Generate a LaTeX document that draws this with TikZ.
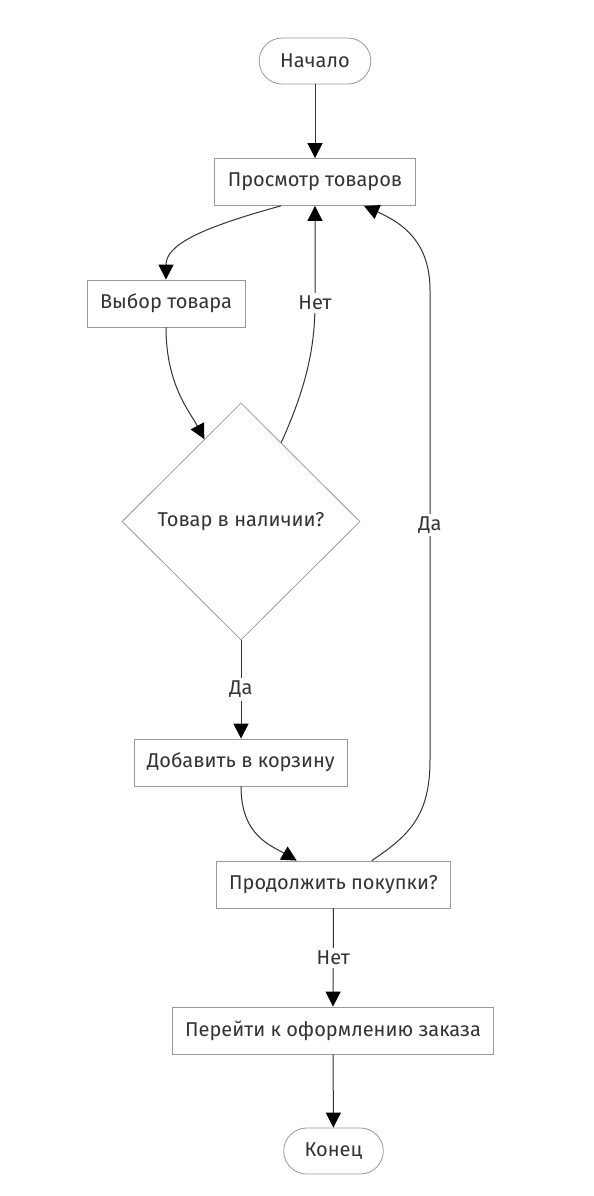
\documentclass[tikz,border=0pt]{standalone}
\usepackage{fontspec}
\setmainfont{Fira Sans}
\usepackage{tikz}
\usetikzlibrary{shapes.geometric, arrows.meta}

\definecolor{textgray}{HTML}{333333}
\definecolor{boxgray}{HTML}{999999}

\begin{document}
\begin{tikzpicture}[
        x=0.5pt, y=-0.5pt,
        font=\fontsize{10}{12}\selectfont,
        text=textgray,
        process node/.style={draw=boxgray, rectangle, align=center, fill=white, inner xsep=6.5pt, minimum height=23.5pt},
        term node/.style={draw=boxgray, rectangle, rounded corners=11.5pt, align=center, fill=white, inner xsep=10.5pt, minimum height=23pt},
        decision node/.style={draw=boxgray, diamond, align=center, fill=white, inner sep=0pt, minimum width=119pt, minimum height=118.5pt},
        flow arrow/.style={-{Triangle[length=7.5pt, width=7.5pt, color=black]}, draw=textgray, line width=0.5pt},
        edge label/.style={fill=white, inner sep=1.5pt, text=textgray}
    ]

    \useasboundingbox (0,0) rectangle (594,1196);

    % Main Nodes
    \node[term node] (start) at (315, 61) {Начало};
    \node[process node] (browse) at (315, 182) {Просмотр товаров};
    \node[process node] (select) at (166, 303.5) {Выбор товара};
    \node[decision node] (stock) at (241, 521.5) {Товар в наличии?};
    \node[process node] (add) at (241, 762.5) {Добавить в корзину};
    \node[process node] (more) at (333.5, 884.5) {Продолжить покупки?};
    \node[process node] (checkout) at (333, 1030.5) {Перейти к оформлению заказа};
    \node[term node] (finish) at (333.5, 1151) {Конец};

    % Straight connectors
    \draw[flow arrow] (start) -- (browse);
    \draw[flow arrow] (stock.south) -- node[edge label] {Да} (add.north);
    \draw[flow arrow] (more.south) -- node[edge label] {Нет} (checkout.north);
    \draw[flow arrow] (checkout) -- (finish);

    % Curved connectors
    \draw[flow arrow] (browse.-145) .. controls (200, 228) and (166, 245) .. (select.north);
    \draw[flow arrow] (select.south) .. controls (166, 385) and (190, 412) .. (stock.114);
    \draw[flow arrow] (stock.63) .. controls (305, 390) and (315, 350) .. node[edge label, pos=1] {Нет} (315, 303) -- (browse.south);
    \draw[flow arrow] (add.south) .. controls (241, 835) and (270, 845) .. (more.147);
    \draw[flow arrow] (more.32) .. controls (410, 835) and (430, 815) .. (430, 760) -- node[edge label] {Да} (430, 290) .. controls (430, 240) and (400, 222) .. (browse.-26);

\end{tikzpicture}
\end{document}
